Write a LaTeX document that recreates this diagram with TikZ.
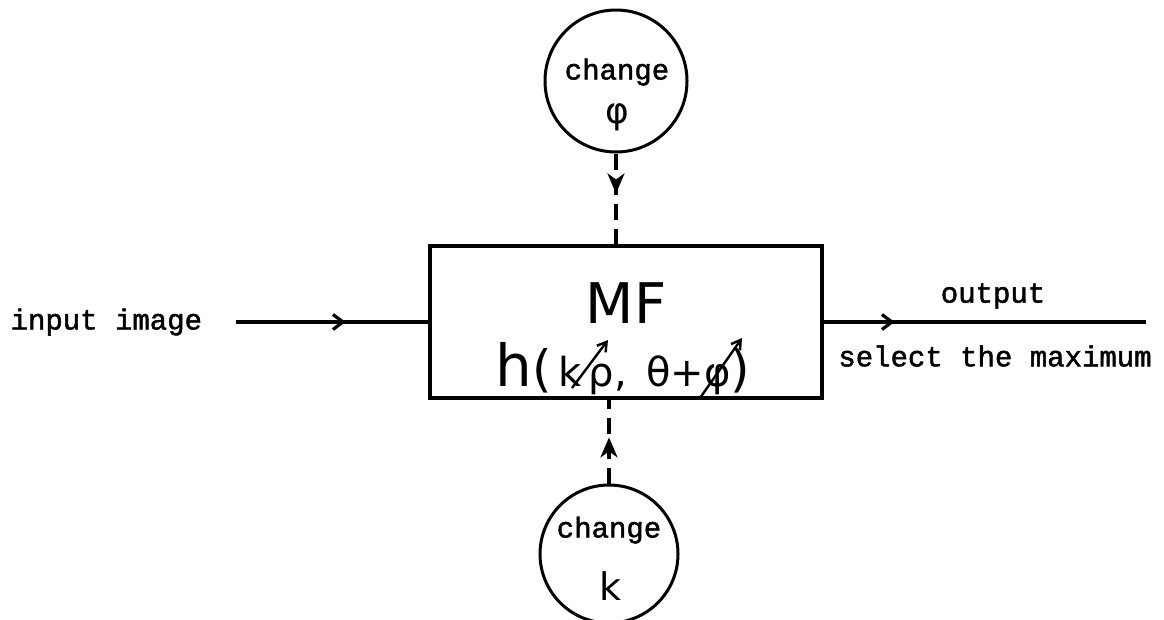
\documentclass[tikz,border=0pt]{standalone}
\usepackage{fontspec}
\setmainfont{Liberation Mono}
\newfontfamily\tw[FakeBold=1.6]{Liberation Mono}
\newfontfamily\hand{DejaVu Sans}
\usetikzlibrary{arrows.meta,decorations.markings}
\begin{document}
\begin{tikzpicture}[x=1pt,y=-1pt,
  every path/.style={line width=3.2pt},
  tt/.style={font=\tw\fontsize{29}{32}\selectfont, inner sep=0pt},
  hw/.style={font=\hand, inner sep=0pt},
  blk/.style={draw, line width=3.4pt, inner sep=0pt},
  circ/.style={draw, circle, line width=3pt, inner sep=0pt},
  midarrow/.style={decoration={markings, mark=at position #1 with {\arrow{Straight Barb[length=10pt,width=15pt,line width=3.2pt]}}}, postaction={decorate}},
  midtri/.style={decoration={markings, mark=at position #1 with {\arrow{Stealth[length=20pt,width=17pt,inset=6pt]}}}, postaction={decorate}},
  dashline/.style={dash pattern=on 16pt off 9pt}
]
\useasboundingbox[fill=white] (0,0) rectangle (1164,619);

% main block
\node[blk, minimum width=392pt, minimum height=152pt] (box) at (626,322) {};
\node[hw, font=\hand\fontsize{56}{60}\selectfont] (mf) at (626,303) {MF};
\node[hw, font=\hand\fontsize{40}{44}\selectfont, anchor=base] (hfun) at (623,386)
  {{\fontsize{58}{60}\selectfont h}{\fontsize{50}{50}\selectfont(}\,k\,ρ,\ \,θ+φ{\fontsize{50}{50}\selectfont)}};

% vector arrows drawn over k and phi
\coordinate (ka) at (572,388);
\coordinate (kb) at (608,340);
\coordinate (pa) at (700,398);
\coordinate (pb) at (742,338);
\draw[line width=2.4pt, -{Straight Barb[length=9pt,width=11pt,line width=2.4pt]}] (ka) -- (kb);
\draw[line width=2.4pt, -{Straight Barb[length=9pt,width=11pt,line width=2.4pt]}] (pa) -- (pb);

% top circle
\node[circ, minimum size=142pt] (cphi) at (616,81) {};
\node[tt] (cphit) at (617,72) {change};
\node[hw, font=\hand\fontsize{36}{38}\selectfont] (phi) at (617,117) {φ};

% bottom circle
\node[circ, minimum size=138pt] (ck) at (609,554) {};
\node[tt] (ckt) at (609,530) {change};
\node[hw, font=\hand\fontsize{38}{40}\selectfont] (kk) at (610,586) {k};

% dashed connectors
\draw[dashline, midtri=0.44] (cphi.south) -- (cphi.south |- box.north);
\draw[dashline, midtri=0.55] (ck.north) -- (ck.north |- box.south);

% input
\node[tt, anchor=west] (inp) at (9,322) {input image};
\coordinate (instart) at (236,322);
\draw[midarrow=0.57] (instart) -- (box.west);

% output
\coordinate (outend) at (1146,322);
\draw[midarrow=0.22] (box.east) -- (outend);
\node[tt] (outl) at (993,296) {output};
\node[tt] (sel) at (995,356) {select the maximum};
\end{tikzpicture}
\end{document}
